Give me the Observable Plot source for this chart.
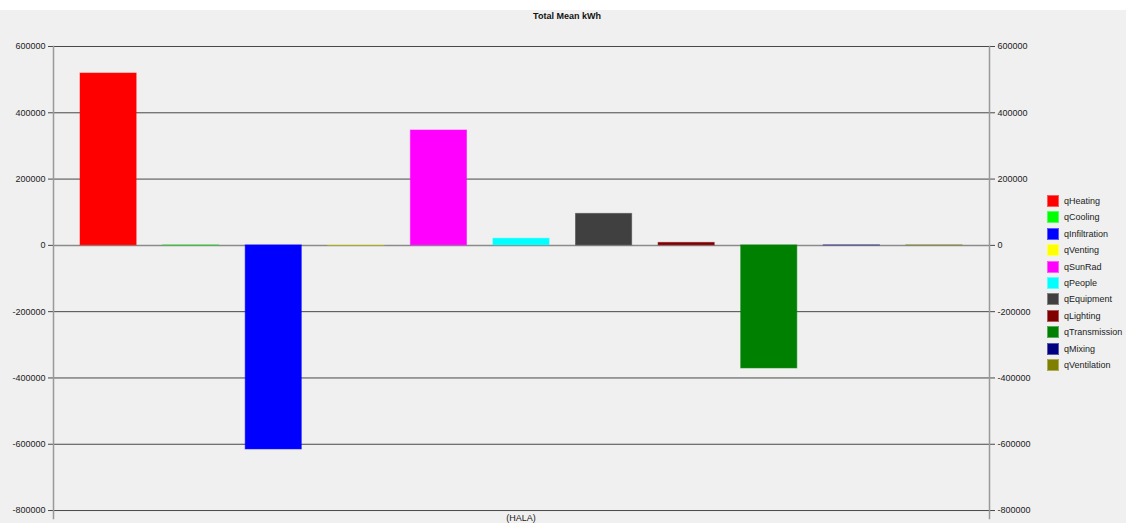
<!DOCTYPE html>
<html>
<head>
<meta charset="utf-8">
<script src="https://cdn.jsdelivr.net/npm/d3@7"></script>
<script src="https://cdn.jsdelivr.net/npm/@observablehq/plot@0.6"></script>
<style>
  html, body { margin: 0; padding: 0; background: #f0f0f0; width: 1126px; height: 523px; overflow: hidden; font-family: "Liberation Sans", Arial, sans-serif; }
  #topstrip { position: absolute; left: 0; top: 0; width: 1126px; height: 10px; background: #ffffff; }
  #title { position: absolute; left: 53px; width: 1028px; top: 11px; text-align: center; font-size: 9px; font-weight: bold; color: #111; }
  #chart { position: absolute; left: 0; top: 0; }
  #xlabel { position: absolute; left: 53px; width: 936px; top: 513px; text-align: center; font-size: 9px; color: #222; }
  #legend { position: absolute; left: 1047px; top: 195px; font-size: 9px; color: #222; }
  .row { position: relative; height: 16.4px; }
  .sw { position: absolute; left: 0; top: 0; width: 12px; height: 12px; box-sizing: border-box; }
  .lb { position: absolute; left: 17px; top: 0px; line-height: 12px; white-space: nowrap; }
</style>
</head>
<body>
<div id="chart"></div>
<div id="topstrip"></div>
<div id="title">Total Mean kWh</div>
<div id="xlabel">(HALA)</div>
<div id="legend"></div>
<script>
const series = ["qHeating","qCooling","qInfiltration","qVenting","qSunRad","qPeople","qEquipment","qLighting","qTransmission","qMixing","qVentilation"];
const values = [518500, 300, -615700, 300, 346600, 20000, 95000, 7500, -371300, -300, 300];
const colors = ["#ff0000","#00ff00","#0000ff","#ffff00","#ff00ff","#00ffff","#404040","#800000","#008000","#000080","#808000"];
const yTicks = [-800000,-600000,-400000,-200000,0,200000,400000,600000];
const categoryLabel = "(HALA)";

const data = series.map((s, i) => ({series: s, value: values[i]}));

const plot = Plot.plot({
  width: 1126,
  height: 523,
  marginLeft: 53,
  marginRight: 137,
  marginTop: 46,
  marginBottom: 5,
  style: {background: "transparent", fontFamily: "Liberation Sans, Arial, sans-serif", fontSize: "9px", color: "#222"},
  x: {domain: series, paddingInner: 0.32, paddingOuter: 0.327, round: false, axis: null},
  y: {domain: [-824000, 600000]},
  color: {domain: series, range: colors},
  marks: [
    Plot.ruleY(yTicks.filter(d => d !== 0), {stroke: "#484848", strokeWidth: 1}),
    Plot.ruleY([0], {stroke: "#8a8a8a", strokeWidth: 1.5}),
    Plot.barY(data, {x: "series", y: "value", fill: "series", stroke: "series", strokeOpacity: 0.5, strokeWidth: 1}),
    Plot.axisY({anchor: "left", ticks: yTicks, tickSize: 5, tickPadding: 3, tickFormat: d => String(d), label: null, stroke: "#484848", fill: "#222"}),
    Plot.axisY({anchor: "right", ticks: yTicks, tickSize: 5, tickPadding: 3, tickFormat: d => String(d), label: null, stroke: "#484848", fill: "#222"}),
    Plot.frame({anchor: "left", stroke: "#999", strokeWidth: 1.5}),
    Plot.frame({anchor: "right", stroke: "#999", strokeWidth: 1.5})
  ]
});
document.getElementById("chart").appendChild(plot);
document.getElementById("xlabel").textContent = categoryLabel;

const legend = document.getElementById("legend");
series.forEach((s, i) => {
  const row = document.createElement("div");
  row.className = "row";
  const sw = document.createElement("div");
  sw.className = "sw";
  sw.style.background = colors[i];
  sw.style.border = "1px solid rgba(255,255,255,0.35)";
  const lb = document.createElement("div");
  lb.className = "lb";
  lb.textContent = s;
  row.appendChild(sw);
  row.appendChild(lb);
  legend.appendChild(row);
});
</script>
</body>
</html>
